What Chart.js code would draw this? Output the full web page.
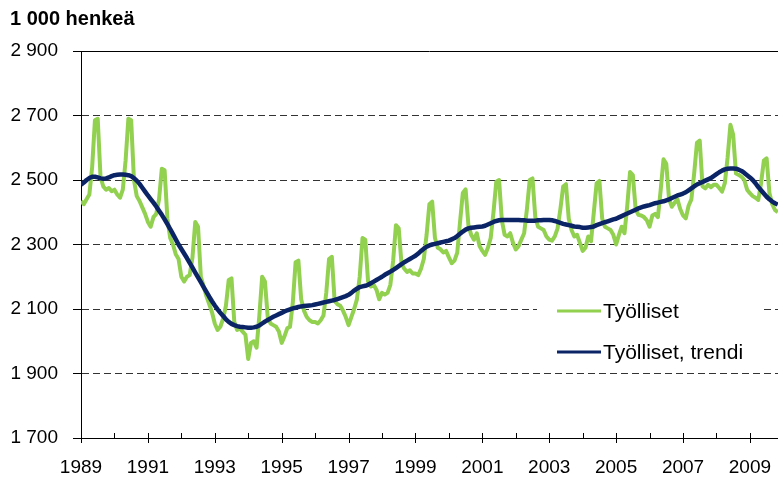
<!DOCTYPE html>
<html>
<head>
<meta charset="utf-8">
<script src="https://cdn.jsdelivr.net/npm/chart.js@4"></script>
<style>
  html, body { margin: 0; padding: 0; background: #fff; overflow: hidden; }
  #wrap { width: 778px; height: 478px; }
</style>
</head>
<body>
<div id="wrap"><canvas id="chart" width="778" height="478"></canvas></div>
<script>
// monthly data, Jan 1989 ->
const startYear = 1989;
const yLabels = [1700, 1900, 2100, 2300, 2500, 2700, 2900];

const tyolliset = [
  2435, 2425, 2440, 2455, 2540, 2685, 2690, 2510, 2480, 2470, 2475, 2465, // 1989
  2470, 2455, 2445, 2470, 2560, 2690, 2685, 2500, 2450, 2435, 2415, 2395, // 1990
  2370, 2355, 2385, 2395, 2440, 2535, 2530, 2380, 2320, 2300, 2270, 2255, // 1991
  2200, 2185, 2200, 2205, 2260, 2370, 2355, 2200, 2170, 2140, 2115, 2090, // 1992
  2055, 2035, 2045, 2070, 2110, 2190, 2195, 2060, 2035, 2040, 2030, 2020, // 1993
  1945, 1995, 2000, 1980, 2080, 2200, 2185, 2075, 2055, 2050, 2045, 2030, // 1994
  1995, 2015, 2040, 2045, 2120, 2245, 2250, 2130, 2095, 2075, 2065, 2060, // 1995
  2060, 2055, 2065, 2080, 2150, 2255, 2262, 2125, 2115, 2110, 2095, 2075, // 1996
  2050, 2075, 2100, 2130, 2200, 2320, 2315, 2185, 2170, 2175, 2160, 2130, // 1997
  2150, 2145, 2150, 2175, 2250, 2360, 2350, 2240, 2225, 2215, 2220, 2210, // 1998
  2210, 2205, 2225, 2255, 2330, 2425, 2433, 2320, 2290, 2285, 2275, 2280, // 1999
  2260, 2242, 2250, 2275, 2370, 2460, 2471, 2360, 2330, 2315, 2335, 2295, // 2000
  2280, 2268, 2290, 2320, 2400, 2495, 2500, 2375, 2330, 2325, 2335, 2305, // 2001
  2285, 2295, 2315, 2335, 2410, 2500, 2505, 2385, 2355, 2350, 2345, 2325, // 2002
  2315, 2312, 2325, 2350, 2410, 2480, 2487, 2380, 2345, 2325, 2330, 2305, // 2003
  2280, 2290, 2325, 2310, 2400, 2490, 2497, 2380, 2355, 2350, 2345, 2330, // 2004
  2300, 2330, 2355, 2335, 2420, 2525, 2515, 2410, 2392, 2390, 2385, 2375, // 2005
  2355, 2390, 2395, 2385, 2470, 2564, 2550, 2440, 2417, 2430, 2440, 2410, // 2006
  2390, 2381, 2420, 2440, 2520, 2615, 2622, 2480, 2474, 2485, 2478, 2485, // 2007
  2485, 2475, 2464, 2490, 2570, 2671, 2640, 2520, 2516, 2510, 2500, 2470, // 2008
  2459, 2450, 2445, 2438, 2490, 2560, 2567, 2460, 2425, 2407, 2400        // 2009
];

const trendi = [
  2485, 2492, 2500, 2506, 2510, 2510, 2508, 2505, 2504, 2505, 2508, 2512, // 1989
  2515, 2516, 2517, 2517, 2516, 2515, 2512, 2506, 2498, 2488, 2476, 2464, // 1990
  2452, 2441, 2430, 2418, 2405, 2392, 2378, 2363, 2348, 2332, 2316, 2300, // 1991
  2286, 2272, 2258, 2243, 2228, 2213, 2198, 2183, 2168, 2153, 2138, 2124, // 1992
  2111, 2099, 2088, 2078, 2068, 2060, 2054, 2050, 2047, 2045, 2044, 2043, // 1993
  2042, 2042, 2043, 2045, 2049, 2055, 2061, 2066, 2071, 2076, 2080, 2084, // 1994
  2088, 2092, 2096, 2099, 2102, 2104, 2106, 2108, 2109, 2110, 2111, 2112, // 1995
  2114, 2116, 2118, 2120, 2122, 2124, 2126, 2128, 2131, 2134, 2137, 2140, // 1996
  2144, 2150, 2157, 2163, 2168, 2170, 2172, 2175, 2180, 2185, 2190, 2195, // 1997
  2200, 2206, 2211, 2216, 2221, 2227, 2233, 2239, 2245, 2250, 2255, 2260, // 1998
  2265, 2272, 2280, 2287, 2293, 2297, 2300, 2302, 2304, 2306, 2308, 2310, // 1999
  2312, 2316, 2320, 2326, 2333, 2340, 2346, 2350, 2352, 2353, 2354, 2355, // 2000
  2356, 2358, 2362, 2366, 2370, 2373, 2375, 2376, 2376, 2376, 2376, 2376, // 2001
  2376, 2376, 2375, 2375, 2374, 2374, 2374, 2374, 2375, 2375, 2376, 2376, // 2002
  2376, 2375, 2373, 2370, 2367, 2364, 2362, 2360, 2358, 2356, 2355, 2354, // 2003
  2352, 2352, 2353, 2354, 2356, 2360, 2363, 2366, 2369, 2372, 2375, 2378, // 2004
  2380, 2384, 2388, 2392, 2396, 2400, 2404, 2408, 2412, 2415, 2418, 2420, // 2005
  2422, 2425, 2428, 2430, 2432, 2434, 2437, 2440, 2444, 2448, 2452, 2455, // 2006
  2458, 2462, 2468, 2474, 2480, 2486, 2490, 2494, 2498, 2502, 2506, 2512, // 2007
  2518, 2524, 2529, 2533, 2535, 2536, 2536, 2535, 2532, 2528, 2522, 2515, // 2008
  2508, 2500, 2490, 2478, 2468, 2458, 2448, 2440, 2433, 2428, 2424        // 2009
];

const toPoints = arr => arr.map((v, i) => ({ x: startYear + i / 12, y: v }));
const fmt = v => String(v).replace(/\B(?=(\d{3})+(?!\d))/g, ' ');
const FONT = '"Liberation Sans", Arial, sans-serif';

// year ticks on x axis, solid top line, legend inside plot
const extras = {
  id: 'extras',
  beforeDatasetsDraw(chart) {
    const { ctx, chartArea: a, scales: { x } } = chart;
    ctx.save();
    ctx.strokeStyle = '#000';
    ctx.lineWidth = 1;
    ctx.beginPath();
    ctx.moveTo(a.left, Math.round(a.top) + 0.5);
    ctx.lineTo(a.right, Math.round(a.top) + 0.5);
    x.ticks.forEach(t => {
      const px = Math.round(x.getPixelForValue(t.value)) + 0.5;
      ctx.moveTo(px, a.bottom - 5);
      ctx.lineTo(px, a.bottom + (t.value % 2 === 1 ? 5 : 0));
    });
    ctx.stroke();
    ctx.restore();
  },
  afterDatasetsDraw(chart) {
    const { ctx } = chart;
    ctx.save();
    ctx.fillStyle = '#fff';
    ctx.fillRect(537, 290, 226, 78);
    ctx.font = '21px ' + FONT;
    ctx.textBaseline = 'middle';
    [1, 0].forEach((di, row) => {
      const ds = chart.data.datasets[di];
      const yy = 311 + row * 41;
      ctx.strokeStyle = ds.borderColor;
      ctx.lineWidth = 3;
      ctx.beginPath();
      ctx.moveTo(557, yy);
      ctx.lineTo(601, yy);
      ctx.stroke();
      ctx.fillStyle = '#000';
      ctx.fillText(ds.label, 603, yy + 1);
    });
    ctx.restore();
  }
};

new Chart(document.getElementById('chart'), {
  type: 'line',
  data: {
    datasets: [
      { label: 'Työlliset, trendi', data: toPoints(trendi), borderColor: '#0b2466', borderWidth: 4.5, pointRadius: 0, tension: 0, borderJoinStyle: 'round', order: 1 },
      { label: 'Työlliset', data: toPoints(tyolliset), borderColor: '#92d050', borderWidth: 4, pointRadius: 0, tension: 0, borderJoinStyle: 'round', order: 2 }
    ]
  },
  options: {
    responsive: false,
    animation: false,
    layout: { autoPadding: false, padding: { left: 10, right: 0, top: 0, bottom: 0 } },
    plugins: {
      legend: { display: false },
      tooltip: { enabled: false },
      title: {
        display: true,
        text: '1 000 henkeä',
        align: 'start',
        color: '#000',
        font: { family: FONT, size: 20, weight: 'bold' },
        padding: { top: 7, bottom: 20 }
      }
    },
    scales: {
      x: {
        type: 'linear',
        min: startYear,
        max: 2009.84,
        afterFit: s => { s.height = 40; s.paddingRight = 0; },
        border: { color: '#000', width: 1 },
        grid: { drawOnChartArea: false, drawTicks: false },
        ticks: {
          stepSize: 1,
          autoSkip: false,
          includeBounds: false,
          maxRotation: 0,
          padding: 18,
          color: '#000',
          font: { family: FONT, size: 19 },
          callback: v => (v % 2 === 1 ? String(v) : '')
        }
      },
      y: {
        min: yLabels[0],
        max: yLabels[yLabels.length - 1],
        afterBuildTicks: s => { s.ticks = yLabels.map(v => ({ value: v })); },
        afterFit: s => { s.width = 71; },
        border: { color: '#000', width: 1, dash: [7, 4] },
        grid: {
          color: c => (c.tick && c.tick.value > 1700 && c.tick.value < 2900 ? '#333' : 'rgba(0,0,0,0)'),
          tickColor: '#000',
          tickLength: 8,
          lineWidth: 1
        },
        ticks: {
          padding: 15,
          color: '#000',
          font: { family: FONT, size: 19 },
          callback: v => fmt(v)
        }
      }
    }
  },
  plugins: [extras]
});
</script>
</body>
</html>
